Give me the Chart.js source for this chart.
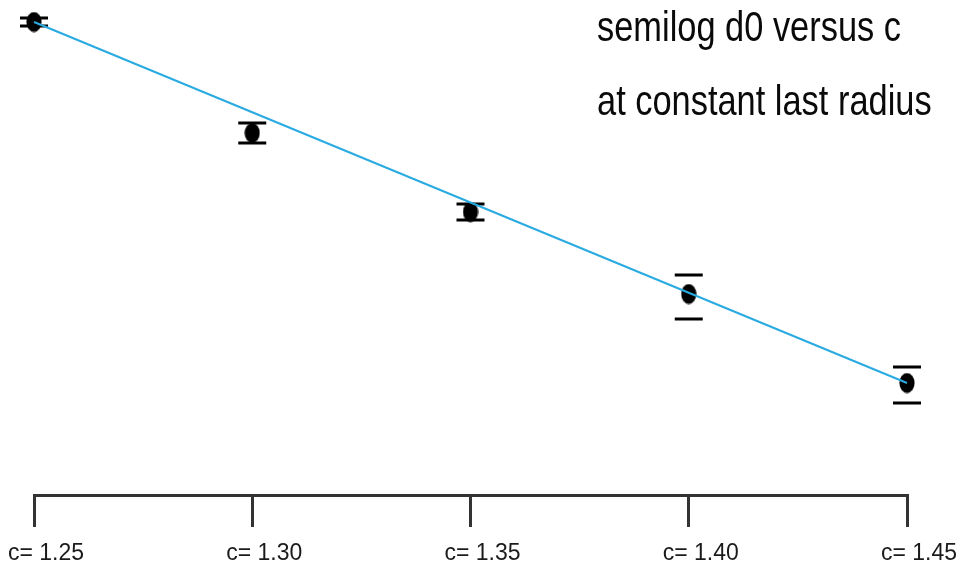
<!DOCTYPE html>
<html>
<head>
<meta charset="utf-8">
<script src="https://cdn.jsdelivr.net/npm/chart.js@4/dist/chart.umd.min.js"></script>
<style>
  html, body { margin: 0; padding: 0; background: #ffffff; }
  #wrap { width: 959px; height: 565px; }
</style>
</head>
<body>
<div id="wrap"><canvas id="c" width="959" height="565"></canvas></div>
<script>
// ---- data ----
const cValues   = [1.25, 1.30, 1.35, 1.40, 1.45];          // categories (c)
const logD0     = [4.73, 3.62, 2.83, 2.01, 1.12];          // semilog d0 (arbitrary units)
const errHigh   = [4.77, 3.72, 2.91, 2.20, 1.28];          // upper end of error bar
const errLow    = [4.69, 3.52, 2.75, 1.76, 0.92];          // lower end of error bar
const fitX      = [1.25, 1.45];                            // fitted line ends
const fitY      = [4.73, 1.12];
const tickLabels = ['c= 1.25', 'c= 1.30', 'c= 1.35', 'c= 1.40', 'c= 1.45'];
const titleLines = ['semilog d0 versus c', 'at constant last radius'];

// ---- point marker: black ellipse ----
const marker = document.createElement('canvas');
marker.width = 16; marker.height = 21;
(function () {
  const m = marker.getContext('2d');
  m.fillStyle = '#000';
  m.beginPath();
  m.ellipse(8, 10.5, 7.6, 10, 0, 0, Math.PI * 2);
  m.fill();
})();

const errorBars = {
  id: 'errorBars',
  beforeDatasetsDraw(chart) {
    const ctx = chart.ctx, xs = chart.scales.x, ys = chart.scales.y;
    ctx.save();
    ctx.strokeStyle = '#000';
    ctx.lineWidth = 3;
    cValues.forEach((c, i) => {
      const x = xs.getPixelForValue(c);
      const yh = ys.getPixelForValue(errHigh[i]);
      const yl = ys.getPixelForValue(errLow[i]);
      ctx.beginPath();
      ctx.moveTo(x - 14, yh); ctx.lineTo(x + 14, yh);
      ctx.moveTo(x - 14, yl); ctx.lineTo(x + 14, yl);
      ctx.stroke();
    });
    ctx.restore();
  }
};

const titleText = {
  id: 'titleText',
  afterDraw(chart) {
    const ctx = chart.ctx;
    ctx.save();
    ctx.fillStyle = '#0a0a0a';
    ctx.font = '43px "Liberation Sans", Arial, sans-serif';
    ctx.textAlign = 'left';
    ctx.textBaseline = 'alphabetic';
    ctx.translate(597, 0);
    ctx.scale(0.8, 1);
    ctx.fillText(titleLines[0], 0, 41);
    ctx.fillText(titleLines[1], 0, 115);
    ctx.restore();
  }
};

new Chart(document.getElementById('c'), {
  data: {
    datasets: [
      {
        type: 'line',
        data: fitX.map((x, i) => ({ x: x, y: fitY[i] })),
        borderColor: '#29abe2',
        borderWidth: 2,
        pointRadius: 0,
        fill: false,
        clip: false,
        order: 0
      },
      {
        type: 'scatter',
        data: cValues.map((x, i) => ({ x: x, y: logD0[i] })),
        pointStyle: marker,
        pointRadius: 8,
        clip: false,
        order: 1
      }
    ]
  },
  options: {
    responsive: false,
    animation: false,
    layout: { padding: { left: 34, right: 52, top: 10, bottom: 0 } },
    plugins: { legend: { display: false }, tooltip: { enabled: false }, title: { display: false } },
    scales: {
      x: {
        type: 'linear',
        min: cValues[0],
        max: cValues[cValues.length - 1],
        afterBuildTicks(scale) { scale.ticks = cValues.map(v => ({ value: v })); },
        afterFit(scale) { scale.height = 70; scale.paddingLeft = 0; scale.paddingRight = 0; },
        grid: { drawOnChartArea: false, drawTicks: true, tickLength: 32, lineWidth: 3, color: '#333' },
        border: { display: true, width: 3, color: '#333' },
        ticks: {
          color: '#1a1a1a',
          padding: 13,
          labelOffset: 12,
          maxRotation: 0,
          autoSkip: false,
          font: { family: '"Liberation Sans", Arial, sans-serif', size: 23 },
          callback(value, index) { return tickLabels[index]; }
        }
      },
      y: {
        display: false,
        min: 0,
        max: 4.85
      }
    }
  },
  plugins: [errorBars, titleText]
});
</script>
</body>
</html>
